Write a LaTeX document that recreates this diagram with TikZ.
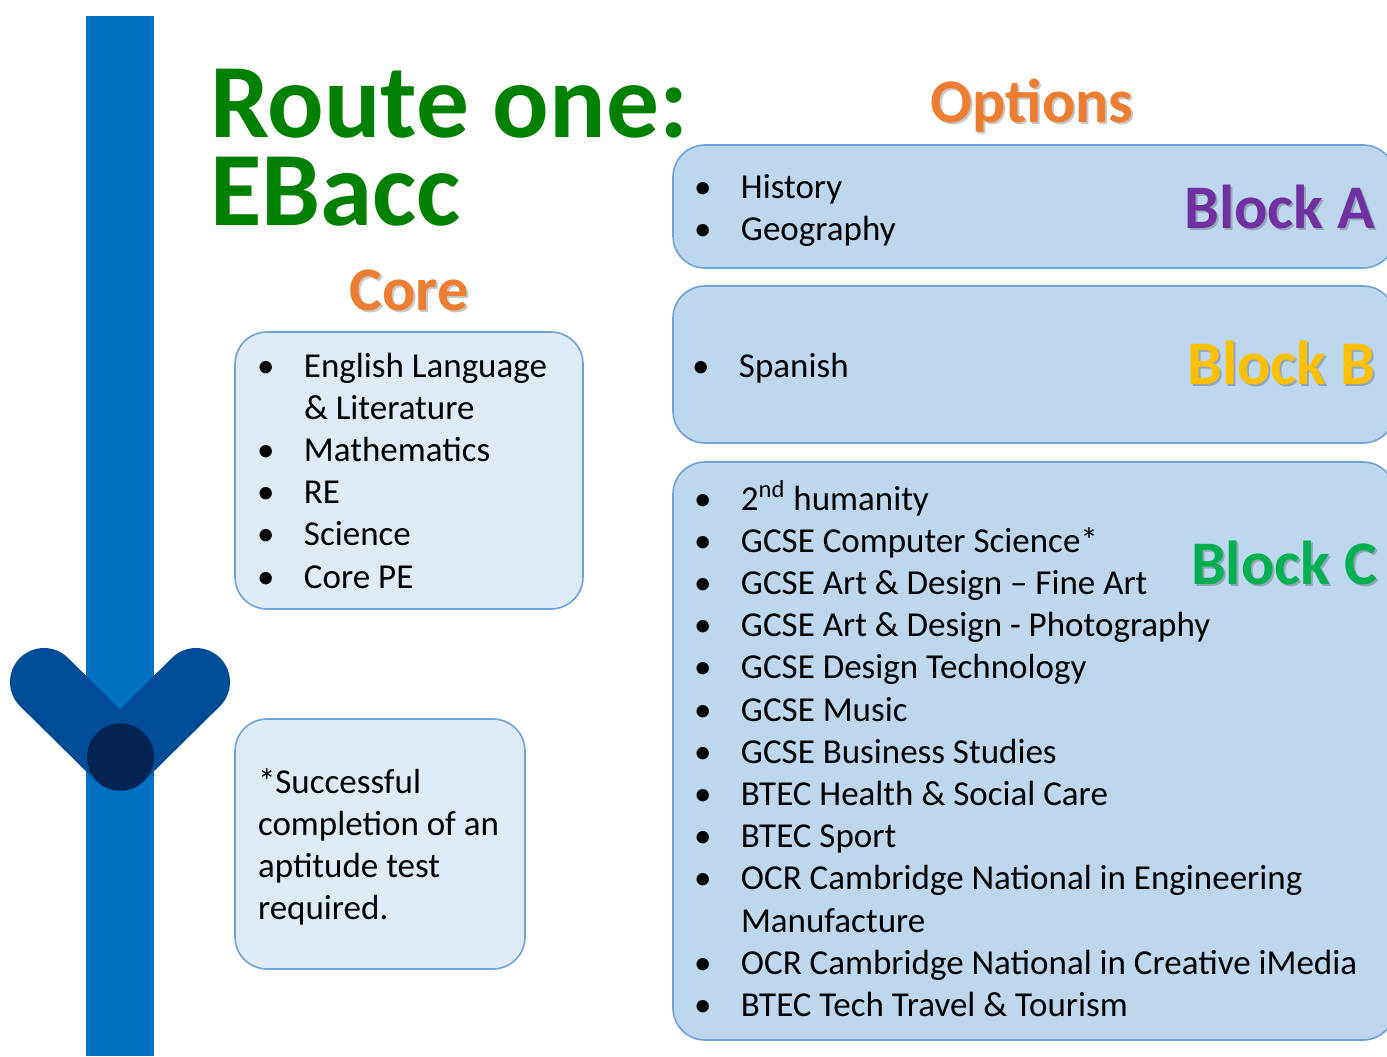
\documentclass[tikz,border=0pt]{standalone}
\usepackage{fontspec}
\setmainfont{Carlito}
\definecolor{barblue}{RGB}{0,112,192}
\definecolor{chevblue}{RGB}{0,76,150}
\definecolor{navy}{RGB}{4,36,83}
\definecolor{boxline}{RGB}{110,163,218}
\definecolor{corefill}{RGB}{222,235,247}
\definecolor{optfill}{RGB}{189,215,238}
\definecolor{orng}{RGB}{237,125,49}
\definecolor{purp}{RGB}{112,48,160}
\definecolor{yell}{RGB}{255,192,0}
\definecolor{grn}{RGB}{0,176,80}
\definecolor{titlegreen}{RGB}{0,128,0}
\newcommand\bul{\makebox[23.5pt][l]{\textbullet}}
\newcommand\ind{\hspace*{23.5pt}}
\begin{document}
\begin{tikzpicture}[x=0.5pt,y=-0.5pt,
  every node/.style={inner sep=0pt, outer sep=0pt},
  lightbox/.style={draw=boxline, line width=0.8pt, fill=corefill, rounded corners=16pt},
  optbox/.style={draw=boxline, line width=0.8pt, fill=optfill, rounded corners=16pt},
  title/.style={font=\fontsize{52.7}{53}\selectfont\bfseries, text=titlegreen, anchor=base west},
  lbl/.style={font=\fontsize{31}{32}\selectfont\bfseries},
  shade/.style={text=black, opacity=0.22},
  list/.style={font=\fontsize{17.5}{21.1}\selectfont, anchor=base west, align=left}
]
\useasboundingbox (0,0) rectangle (1387,1056);
\fill[white] (0,0) rectangle (1387,1056);
\clip (0,0) rectangle (1387,1056);

% vertical bar
\fill[barblue] (86,16) rectangle (154,1056);

% chevron
\coordinate (chl) at (44,682);
\coordinate (chb) at (120,757);
\coordinate (chr) at (196,682);
\draw[chevblue, line width=34pt, line cap=round, line join=round] (chl) -- (chb) -- (chr);
\fill[navy] (120.5,757) circle[radius=33.5];

% boxes
\node[lightbox, minimum width=174pt, minimum height=138.5pt] (corebox) at (409,470.5) {};
\node[lightbox, minimum width=145pt, minimum height=125pt] (notebox) at (380,844) {};
\node[optbox, minimum width=361pt, minimum height=61.5pt] (boxA) at (1034,206.5) {};
\node[optbox, minimum width=361pt, minimum height=78.5pt] (boxB) at (1034,364.5) {};
\node[optbox, minimum width=361pt, minimum height=289pt] (boxC) at (1034,751) {};

% title (two lines, tightly set)
\node[title] (route) at (210,137) {\baselineskip=44pt\lineskiplimit=-100pt\vtop{\hbox{Route one:}\hbox{EBacc}}};

\node[lbl, shade, anchor=base] (coresh) at (411,312) {Core};
\node[lbl, text=orng, anchor=base] (core) at (409,310) {Core};
\node[lbl, shade, anchor=base] (optsh) at (1034,124) {Options};
\node[lbl, text=orng, anchor=base] (opt) at (1032,122) {Options};

\node[lbl, shade, anchor=base east] (lAsh) at (1377,230) {Block A};
\node[lbl, text=purp, anchor=base east] (lA) at (1375,228) {Block A};
\node[lbl, shade, anchor=base east] (lBsh) at (1377,386) {Block B};
\node[lbl, text=yell, anchor=base east] (lB) at (1375,384) {Block B};
\node[lbl, shade, anchor=base east] (lCsh) at (1379,586) {Block C};
\node[lbl, text=grn, anchor=base east] (lC) at (1377,584) {Block C};

% lists
\node[list] (corelist) at (257,377) {\begin{tabular}[t]{@{}l@{}}
\bul English Language\\
\ind \& Literature\\
\bul Mathematics\\
\bul RE\\
\bul Science\\
\bul Core PE
\end{tabular}};

\node[list] (notetext) at (258,793) {\begin{tabular}[t]{@{}l@{}}
*Successful\\
completion of an\\
aptitude test\\
required.
\end{tabular}};

\node[list] (listA) at (694,198) {\begin{tabular}[t]{@{}l@{}}
\bul History\\
\bul Geography
\end{tabular}};

\node[list] (listB) at (692,377) {\bul Spanish};

\node[list] (listC) at (694,510) {\begin{tabular}[t]{@{}l@{}}
\bul 2\textsuperscript{nd} humanity\\
\bul GCSE Computer Science*\\
\bul GCSE Art \& Design – Fine Art\\
\bul GCSE Art \& Design - Photography\\
\bul GCSE Design Technology\\
\bul GCSE Music\\
\bul GCSE Business Studies\\
\bul BTEC Health \& Social Care\\
\bul BTEC Sport\\
\bul OCR Cambridge National in Engineering\\
\ind Manufacture\\
\bul OCR Cambridge National in Creative iMedia\\
\bul BTEC Tech Travel \& Tourism
\end{tabular}};
\end{tikzpicture}
\end{document}
